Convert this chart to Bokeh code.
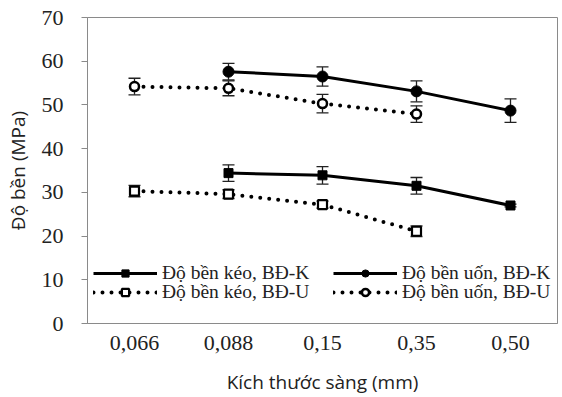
from bokeh.plotting import figure
from bokeh.models import (ColumnDataSource, Whisker, TeeHead, Legend, LegendItem,
                          FactorRange, Range1d, SingleIntervalTicker)
from bokeh.embed import file_html
from bokeh.resources import INLINE

# ---- data ----
categories = ["0,066", "0,088", "0,15", "0,35", "0,50"]

cats_K = ["0,088", "0,15", "0,35", "0,50"]
cats_U = ["0,066", "0,088", "0,15", "0,35"]

keo_K = [34.4, 33.9, 31.5, 27.0]
keo_K_err = [1.9, 2.0, 1.9, 0.3]
keo_U = [30.3, 29.6, 27.2, 21.1]
keo_U_err = [1.3, 1.0, 0.8, 1.2]
uon_K = [57.6, 56.5, 53.1, 48.7]
uon_K_err = [1.9, 2.2, 2.4, 2.7]
uon_U = [54.2, 53.8, 50.3, 47.9]
uon_U_err = [1.9, 1.7, 2.1, 1.9]

labels = ["Độ bền kéo, BĐ-K", "Độ bền uốn, BĐ-K", "Độ bền kéo, BĐ-U", "Độ bền uốn, BĐ-U"]

SERIF = "Liberation Serif"

p = figure(width=562, height=397, output_backend="svg", toolbar_location=None,
           x_range=FactorRange(factors=categories, range_padding=0),
           y_range=Range1d(0, 70),
           min_border_left=87, min_border_right=5, min_border_top=17, min_border_bottom=74)

p.xgrid.visible = False
p.ygrid.visible = False
p.outline_line_color = "#8a8a8a"
p.outline_line_width = 1

def src(cats, vals, errs):
    return ColumnDataSource(dict(x=cats, y=vals,
                                 lo=[v - e for v, e in zip(vals, errs)],
                                 hi=[v + e for v, e in zip(vals, errs)]))

s_keo_K = src(cats_K, keo_K, keo_K_err)
s_keo_U = src(cats_U, keo_U, keo_U_err)
s_uon_K = src(cats_K, uon_K, uon_K_err)
s_uon_U = src(cats_U, uon_U, uon_U_err)

for s in (s_keo_K, s_keo_U, s_uon_K, s_uon_U):
    w = Whisker(base="x", upper="hi", lower="lo", source=s, dimension="height",
                line_color="#222222", line_width=1.3,
                upper_head=TeeHead(size=12, line_color="#222222", line_width=1.3),
                lower_head=TeeHead(size=12, line_color="#222222", line_width=1.3))
    p.add_layout(w)

solid = dict(line_color="black", line_width=3)
dotted = dict(line_color="black", line_width=4, line_dash="0 9", line_cap="round")

l1 = p.line("x", "y", source=s_keo_K, **solid)
m1 = p.scatter("x", "y", source=s_keo_K, marker="square", size=9,
               fill_color="black", line_color="black")
l2 = p.line("x", "y", source=s_uon_K, **solid)
m2 = p.scatter("x", "y", source=s_uon_K, marker="circle", size=11,
               fill_color="black", line_color="black")
l3 = p.line("x", "y", source=s_keo_U, **dotted)
m3 = p.scatter("x", "y", source=s_keo_U, marker="square", size=9,
               fill_color="white", line_color="black", line_width=2.2)
l4 = p.line("x", "y", source=s_uon_U, **dotted)
m4 = p.scatter("x", "y", source=s_uon_U, marker="circle", size=9,
               fill_color="white", line_color="black", line_width=2.5)

# axes
p.yaxis.ticker = SingleIntervalTicker(interval=10)
p.yaxis.axis_label = "Độ bền (MPa)"
p.xaxis.axis_label = "Kích thước sàng (mm)"
for ax in (p.xaxis, p.yaxis):
    ax.axis_label_text_font = "Open Sans"
    ax.axis_label_text_font_style = "normal"
    ax.axis_label_text_font_size = "19px"
    ax.axis_label_text_color = "#222222"
    ax.major_label_text_font = SERIF
    ax.major_label_text_color = "#222222"
    ax.axis_line_color = "#8a8a8a"
    ax.major_tick_line_color = "#8a8a8a"
    ax.minor_tick_line_color = None
    ax.major_tick_in = 0
p.yaxis.major_label_text_font_size = "22px"
p.yaxis.major_tick_out = 6
p.yaxis.major_label_standoff = 18
p.yaxis.axis_label_standoff = 8
p.xaxis.major_label_text_font_size = "22px"
p.xaxis.major_tick_out = 0
p.xaxis.major_label_standoff = 12
p.xaxis.axis_label_standoff = 16

# legends (two columns, two rows)
renderers = [[l1, m1], [l2, m2], [l3, m3], [l4, m4]]
locs = [(6, 39), (246, 39), (6, 20), (246, 20)]
for lab, rs, loc in zip(labels, renderers, locs):
    lg = Legend(items=[LegendItem(label=lab, renderers=rs)], location=loc,
                border_line_color=None, background_fill_alpha=0,
                padding=0, margin=0, spacing=0,
                glyph_width=64, glyph_height=18, label_height=18,
                label_standoff=5, label_text_font=SERIF,
                label_text_font_size="19.5px", label_text_color="#222222")
    p.add_layout(lg, "center")

open("out.html", "w").write(file_html(p, INLINE))
